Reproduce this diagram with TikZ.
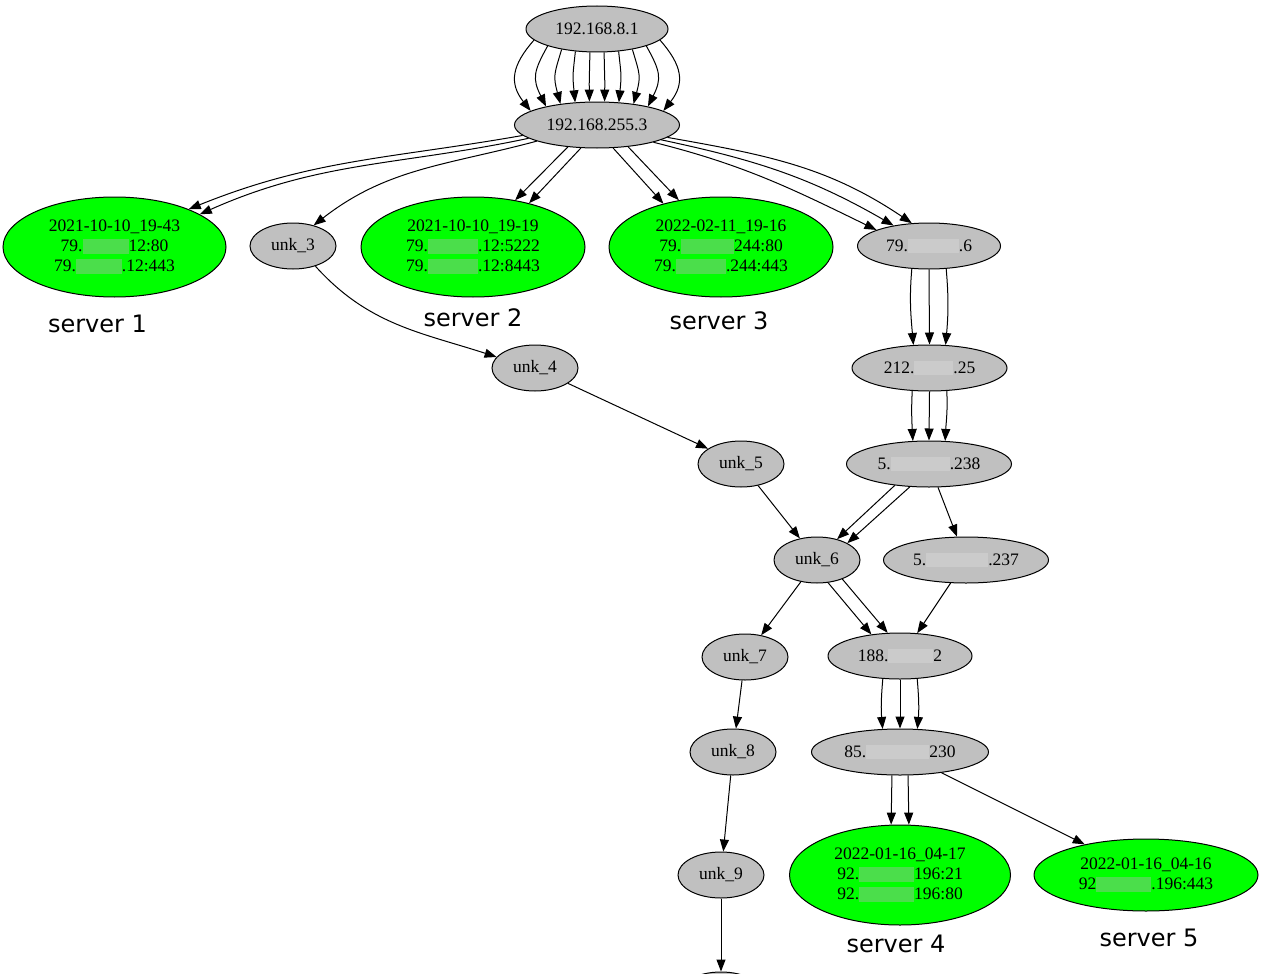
\documentclass[tikz,border=0pt]{standalone}
\usepackage{fontspec}
\setmainfont{Liberation Serif}
\newfontfamily\lblfont{DejaVu Sans}
\usetikzlibrary{shapes.geometric,arrows.meta}
\definecolor{gvgray}{RGB}{192,192,192}
\definecolor{gvgreen}{RGB}{0,255,0}
\definecolor{blurg}{RGB}{75,222,75}
\definecolor{blurk}{RGB}{203,203,203}
\newcommand{\gb}[1]{\textcolor{blurg}{\rule[-0.12em]{#1pt}{0.85em}}}
\newcommand{\kb}[1]{\textcolor{blurk}{\rule[-0.12em]{#1pt}{0.85em}}}
\begin{document}
\begin{tikzpicture}[x=1pt,y=1pt,
  gnode/.style={ellipse, draw, line width=1pt, fill=gvgray, inner sep=0pt, minimum height=46, font=\fontsize{17.5}{20}\selectfont},
  srv/.style={ellipse, draw, line width=1pt, fill=gvgreen, inner sep=0pt, align=center, font=\fontsize{17.5}{20}\selectfont},
  slabel/.style={anchor=base, inner sep=0pt, font=\lblfont\fontsize{24}{28}\selectfont},
  edge/.style={draw, line width=1pt, -{Triangle[length=12pt,width=9pt]}},
]
\useasboundingbox (0,0) rectangle (1261,-974);
\clip (0,0) rectangle (1261,-974);

% nodes
\node[gnode, minimum width=142] (n1) at (597,-29) {192.168.8.1};
\node[gnode, minimum width=165] (n2) at (597,-125) {192.168.255.3};
\node[srv, minimum width=223, minimum height=100] (s1) at (114.5,-247) {2021-10-10\_19-43\\79.\gb{46}12:80\\79.\gb{46}.12:443};
\node[gnode, minimum width=86] (u3) at (293,-246) {unk\_3};
\node[srv, minimum width=224, minimum height=100] (s2) at (473,-247) {2021-10-10\_19-19\\79.\gb{50}.12:5222\\79.\gb{50}.12:8443};
\node[srv, minimum width=224, minimum height=100] (s3) at (721,-247) {2022-02-11\_19-16\\79.\gb{53}244:80\\79.\gb{50}.244:443};
\node[gnode, minimum width=143] (n79) at (929,-246) {79.\kb{51}.6};
\node[gnode, minimum width=155] (n212) at (929.5,-368) {212.\kb{39}.25};
\node[gnode, minimum width=86] (u4) at (535,-368) {unk\_4};
\node[gnode, minimum width=86] (u5) at (741,-464) {unk\_5};
\node[gnode, minimum width=165] (n5a) at (929,-464) {5.\kb{59}.238};
\node[gnode, minimum width=86] (u6) at (817,-560) {unk\_6};
\node[gnode, minimum width=165] (n5b) at (966,-560) {5.\kb{62}.237};
\node[gnode, minimum width=86] (u7) at (745,-657) {unk\_7};
\node[gnode, minimum width=144] (n188) at (900,-656) {188.\kb{45}2};
\node[gnode, minimum width=86] (u8) at (733,-752) {unk\_8};
\node[gnode, minimum width=177] (n85) at (900,-752) {85.\kb{63}230};
\node[gnode, minimum width=86] (u9) at (721,-875) {unk\_9};
\node[srv, minimum width=221, minimum height=100] (s4) at (900,-875) {2022-01-16\_04-17\\92.\gb{55}196:21\\92.\gb{55}196:80};
\node[srv, minimum width=224, minimum height=72] (s5) at (1146,-875) {2022-01-16\_04-16\\92\gb{55}.196:443};
\node[gnode, minimum width=86] (ucut) at (721,-995) {};

% server labels
\node[slabel] (l1) at (97.5,-332) {server 1};
\node[slabel] (l2) at (473,-326.5) {server 2};
\node[slabel] (l3) at (719,-329.5) {server 3};
\node[slabel] (l4) at (896,-952) {server 4};
\node[slabel] (l5) at (1149,-946) {server 5};

% edges n1 -> n2 (10)
\foreach \sa/\ea/\c in {190/168/-22, 199/160/-14, 210/150/-7.5, 226/134/-2.7, 253/108/-0.3, 287/72/0.3, 314/46/2.7, 330/30/7.5, 341/20/14, 350/12/22}
  \draw[edge] (n1.\sa) .. controls +(\c,-25) and +(\c,28) .. (n2.\ea);

% n2 -> s1, unk_3
\draw[edge] (n2.188) to[out=190,in=22] (s1.27);
\draw[edge] (n2.191) to[out=192,in=24] (s1.21);
\draw[edge] (n2.195) to[out=195,in=38] (u3.45);
% n2 -> s2, s3
\draw[edge] (n2.217) -- (s2.48);
\draw[edge] (n2.235) -- (s2.38);
\draw[edge] (n2.305) -- (s3.143);
\draw[edge] (n2.325) -- (s3.132);
% n2 -> 79
\draw[edge] (n2.-17) to[out=-14,in=154] (n79.163);
\draw[edge] (n2.-13) to[out=-12,in=150] (n79.150);
\draw[edge] (n2.-10) to[out=-10,in=146] (n79.127);
% 79 -> 212
\draw[edge] (n79.233) to[out=265,in=95] (n212.125);
\draw[edge] (n79.270) -- (n212.90);
\draw[edge] (n79.307) to[out=275,in=85] (n212.55);
% 212 -> 5.238
\draw[edge] (n212.233) to[out=267,in=93] (n5a.125);
\draw[edge] (n212.270) -- (n5a.90);
\draw[edge] (n212.307) to[out=273,in=87] (n5a.55);
% unk chain
\draw[edge] (u3.-42) to[out=-48,in=162] (u4.164);
\draw[edge] (u4) -- (u5);
\draw[edge] (u5) -- (u6);
% 5.238 -> unk_6, 5.237
\draw[edge] (n5a.212) -- (u6.46);
\draw[edge] (n5a.230) -- (u6.29);
\draw[edge] (n5a) -- (n5b);
% unk_6 -> unk_7, 188
\draw[edge] (u6) -- (u7);
\draw[edge] (u6.-64) -- (n188.143);
\draw[edge] (u6.-37) -- (n188.118);
\draw[edge] (n5b) -- (n188.53);
% 188 -> 85
\draw[edge] (n188.233) to[out=265,in=95] (n85.127);
\draw[edge] (n188.270) -- (n85.90);
\draw[edge] (n188.307) to[out=275,in=85] (n85.53);
% 85 -> s4, s5
\draw[edge] (n85.251) -- (s4.100);
\draw[edge] (n85.289) -- (s4.80);
\draw[edge] (n85) -- (s5);
% unk_7 .. unk_9
\draw[edge] (u7) -- (u8);
\draw[edge] (u8) -- (u9);
\draw[edge] (u9) -- (ucut);
\end{tikzpicture}
\end{document}
